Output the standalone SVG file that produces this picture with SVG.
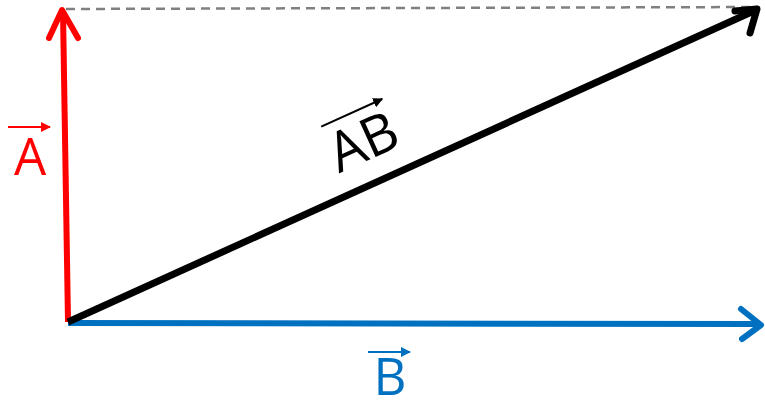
<svg xmlns="http://www.w3.org/2000/svg" width="765" height="403" viewBox="0 0 765 403">
<style>
.lbl{font-family:"Open Sans","Liberation Sans",sans-serif;font-size:51px}
.vec{fill:none;stroke-linecap:round;stroke-linejoin:round}
</style>
<defs>
<marker id="ar" viewBox="0 0 10 10" refX="9" refY="5" markerWidth="5" markerHeight="5" orient="auto">
<path d="M0,0 L10,5 L0,10 Z" fill="context-stroke"/>
</marker>
</defs>
<g id="connectors">
<line id="dash" x1="66" y1="9" x2="758" y2="7" stroke="#808080" stroke-width="2.5" stroke-dasharray="9,6"/>
<g id="vecA" class="vec" stroke="#ff0000" stroke-width="6">
<path d="M68,322 L63,12" stroke-linecap="butt"/>
<path d="M49,38 L62,10 L78,38"/>
</g>
<g id="vecB" class="vec" stroke="#0070c0" stroke-width="6">
<path d="M68,323 L760,324" stroke-linecap="butt"/>
<path d="M741,309 L761,325 L742,339"/>
</g>
<g id="vecAB" class="vec" stroke="#000000" stroke-width="7">
<path d="M68,322 L756,10" stroke-linecap="butt"/>
<path d="M735,11 L757,9 L750,33"/>
</g>
</g>
<g id="labelA">
<line x1="8" y1="127" x2="50" y2="127" stroke="#ff0000" stroke-width="2" marker-end="url(#ar)"/>
<text class="lbl" x="30" y="175" fill="#ff0000" text-anchor="middle">A</text>
</g>
<g id="labelB">
<line x1="368" y1="352" x2="410" y2="352" stroke="#0070c0" stroke-width="2" marker-end="url(#ar)"/>
<text class="lbl" x="390" y="395" fill="#0070c0" text-anchor="middle">B</text>
</g>
<g id="labelAB" transform="translate(371,159) rotate(-24.4)">
<line x1="-32" y1="-50" x2="35" y2="-50" stroke="#000000" stroke-width="2" marker-end="url(#ar)"/>
<text class="lbl" x="0" y="0" fill="#000000" text-anchor="middle" style="font-size:55px">AB</text>
</g>
</svg>
